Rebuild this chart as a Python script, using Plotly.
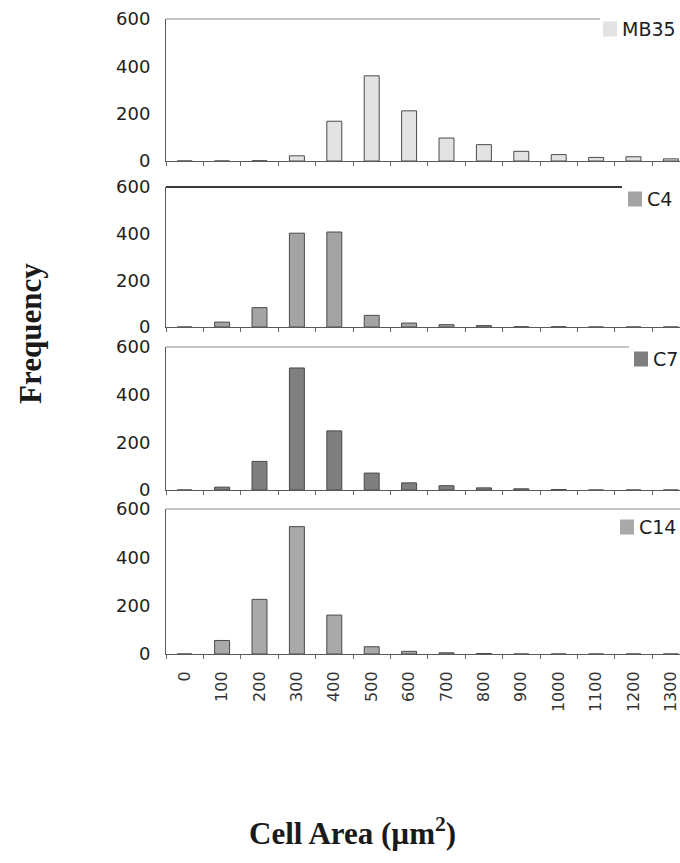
import plotly.graph_objects as go

# ---- data ----
area_bins = [0, 100, 200, 300, 400, 500, 600, 700, 800, 900, 1000, 1100, 1200, 1300]
tick_labels = ["0", "100", "200", "300", "400", "500", "600", "700", "800", "900",
               "1000", "1100", "1200", "1300"]
series_names = ["MB35", "C4", "C7", "C14"]
mb35 = [0, 0, 1, 22, 168, 360, 212, 97, 69, 41, 27, 15, 18, 9]
c4 = [0, 21, 83, 402, 407, 50, 17, 10, 6, 1, 1, 0, 0, 0]
c7 = [0, 12, 120, 512, 248, 71, 30, 18, 9, 5, 2, 0, 0, 0]
c14 = [0, 56, 226, 527, 161, 30, 11, 5, 2, 0, 0, 0, 0, 0]
series_values = [mb35, c4, c7, c14]
y_ticks = [0, 200, 400, 600]

# ---- styling ----
W, H = 680, 863
fills = ["#e3e3e3", "#a4a4a4", "#7f7f7f", "#a9a9a9"]
panels_px = [(19, 161), (187, 327), (347, 490), (509, 654)]   # (top, zero line) in px
top_line_end_px = [600, 622, 629, W]
top_line_style = [(1, "#8a8a8a"), (2, "#3a3a3a"), (1, "#8a8a8a"), (1, "#8a8a8a")]
key_px = [(603, 29), (628, 199), (634, 359), (620, 527)]      # legend square left, centre y
key_w, key_h = 14, 15
left_px = 166
cat_px = 37.4
x_lo = area_bins[0] - 50
x_hi = x_lo + (W - left_px) / cat_px * 100

fig = go.Figure()
shapes = []
annotations = []
layout_extra = {}
for i, (name, vals) in enumerate(zip(series_names, series_values)):
    n = i + 1
    xa = "x" if n == 1 else f"x{n}"
    ya = "y" if n == 1 else f"y{n}"
    fig.add_trace(go.Bar(
        x=area_bins, y=vals, name=name, width=40,
        marker=dict(color=fills[i], line=dict(color="#4a4a4a", width=1)),
        xaxis=xa, yaxis=ya, showlegend=False,
    ))
    top, zero = panels_px[i]
    dom = [1 - zero / H, 1 - top / H]
    last = (n == 4)
    layout_extra[f"xaxis{'' if n == 1 else n}"] = dict(
        domain=[left_px / W, 1], range=[x_lo, x_hi], anchor=ya, automargin=False,
        tickmode="array", tickvals=area_bins, ticktext=tick_labels,
        showticklabels=last, tickangle=-90, ticks="", ticklabeloverflow="allow",
        tickfont=dict(family="DejaVu Sans", size=16, color="#333333"),
        ticklabelstandoff=10,
        showline=True, linecolor="#5a5a5a", linewidth=1,
        showgrid=False, zeroline=False,
        minor=dict(tickmode="array",
                   tickvals=[b - 50 for b in area_bins] + [area_bins[-1] + 50],
                   ticks="outside", ticklen=4, tickcolor="#6a6a6a", showgrid=False),
        fixedrange=True,
    )
    layout_extra[f"yaxis{'' if n == 1 else n}"] = dict(
        domain=dom, range=[0, 600], anchor=xa, automargin=False,
        tickmode="array", tickvals=y_ticks, ticks="",
        tickfont=dict(family="DejaVu Sans", size=18, color="#1e1e1e"),
        ticklabelstandoff=11,
        showline=True, linecolor="#5a5a5a", linewidth=1,
        showgrid=False, zeroline=False, fixedrange=True,
    )
    lw, lc = top_line_style[i]
    shapes.append(dict(type="line", xref="paper", yref="paper",
                       x0=left_px / W, x1=top_line_end_px[i] / W,
                       y0=1 - top / H, y1=1 - top / H,
                       line=dict(color=lc, width=lw)))
    # legend key (square + label)
    kx, ky = key_px[i]
    shapes.append(dict(type="rect", xref="paper", yref="paper",
                       x0=kx / W, x1=(kx + key_w) / W,
                       y0=1 - (ky + key_h / 2) / H, y1=1 - (ky - key_h / 2) / H,
                       fillcolor=fills[i], line=dict(color=fills[i], width=0)))
    annotations.append(dict(text=name, xref="paper", yref="paper",
                            x=(kx + key_w + 3) / W, y=1 - ky / H,
                            xanchor="left", yanchor="middle", showarrow=False,
                            font=dict(family="DejaVu Sans", size=19, color="#1e1e1e")))

annotations += [
    dict(text="<b>Frequency</b>", xref="paper", yref="paper",
         x=30 / W, y=1 - 334 / H, textangle=-90, showarrow=False,
         xanchor="center", yanchor="middle",
         font=dict(family="Liberation Serif", size=31, color="#1a1a1a")),
    dict(text="<b>Cell Area (µm<sup>2</sup>)</b>", xref="paper", yref="paper",
         x=352 / W, y=1 - 831 / H, showarrow=False,
         xanchor="center", yanchor="middle",
         font=dict(family="Liberation Serif", size=31, color="#1a1a1a")),
]

fig.update_layout(
    width=W, height=H, margin=dict(l=0, r=0, t=0, b=0, autoexpand=False),
    paper_bgcolor="white", plot_bgcolor="white",
    bargap=0.6, shapes=shapes, annotations=annotations, showlegend=False,
    **layout_extra,
)

fig.write_html("out.html")
